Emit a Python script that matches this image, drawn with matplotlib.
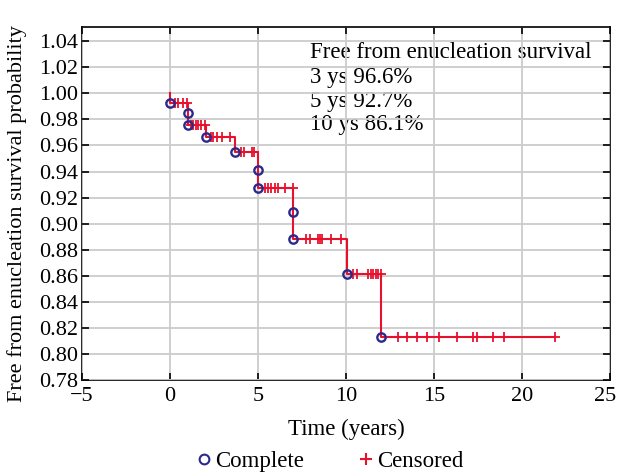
import matplotlib
matplotlib.use("Agg")
import matplotlib.pyplot as plt
import matplotlib.transforms as mtransforms
from matplotlib.lines import Line2D

# Kaplan-Meier steps (event times and survival after each event)
event_times = [0.0, 1.0, 1.0, 2.05, 3.7, 5.0, 5.0, 7.0, 7.0, 10.05, 12.0]
event_surv = [0.9924, 0.9846, 0.9759, 0.9667, 0.9551, 0.9415, 0.9274,
              0.9087, 0.8884, 0.8613, 0.8133]
end_time = 21.9

# Censored observations (time, survival level)
cens_times = [0.28, 0.44, 0.76, 0.95,
              1.19, 1.33, 1.46, 1.61, 1.76, 1.99,
              2.33, 2.46, 2.65, 2.94, 3.41,
              4.03, 4.22, 4.64, 4.79,
              5.40, 5.55, 5.75, 5.95, 6.15, 6.55, 7.0,
              7.75, 7.94, 8.41, 8.54, 8.66, 9.17, 9.73,
              10.4, 10.6, 11.25, 11.4, 11.55, 11.68, 11.82, 12.0,
              12.97, 13.45, 14.01, 14.58, 15.28, 16.32, 17.23, 17.42, 18.33, 18.99, 21.9]
cens_surv = [0.9924] * 4 + [0.9759] * 6 + [0.9667] * 5 + [0.9551] * 4 + \
            [0.9274] * 7 + [0.8884] * 7 + [0.8613] * 8 + [0.8133] * 11

annot_lines = ["Free from enucleation survival", "3 ys 96.6%", "5 ys 92.7%", "10 ys 86.1%"]
annot_y = [1.0315, 1.0123, 0.9938, 0.9761]

x_ticks = [-5, 0, 5, 10, 15, 20, 25]
y_ticks = [0.78, 0.80, 0.82, 0.84, 0.86, 0.88, 0.90, 0.92, 0.94, 0.96, 0.98, 1.00, 1.02, 1.04]

plt.rcParams['font.family'] = ['Liberation Serif', 'DejaVu Serif']
RED = '#e8112d'
NAVY = '#2b2a8c'
FS = 16.5

fig = plt.figure(figsize=(6.19, 4.72), dpi=100)
ax = fig.add_axes([0.1325, 0.195, 0.853, 0.748])

step_x = [0.0] + event_times + [end_time]
step_y = [1.0] + event_surv + [event_surv[-1]]
ax.step(step_x, step_y, where='post', color=RED, lw=1.5, zorder=3)
ax.plot(cens_times, cens_surv, linestyle='none', marker='+', color=RED,
        markersize=7, markeredgewidth=1.3, zorder=4)
ax.plot(event_times, event_surv, linestyle='none', marker='o', markerfacecolor='none',
        markeredgecolor=NAVY, markersize=6, markeredgewidth=1.7, zorder=5)

for txt, yy in zip(annot_lines, annot_y):
    ax.text(7.95, yy, txt, fontsize=FS, va='center', ha='left', zorder=1)

ax.set_xlim(-5, 25)
ax.set_ylim(0.78, 1.051)
ax.set_xticks(x_ticks)
ax.set_yticks(y_ticks)
ax.set_yticklabels([f"{v:.2f}" for v in y_ticks])
ax.grid(True, color='#cccccc', lw=1.3, zorder=2.5)
ax.set_axisbelow(False)
ax.tick_params(direction='in', top=True, right=True, length=5, width=1.2,
               labelsize=16)
ax.tick_params(axis='x', pad=5)
ax.tick_params(axis='y', pad=3)
for s in ax.spines.values():
    s.set_linewidth(1.2)
ax.set_xlabel("Time (years)", fontsize=FS, labelpad=9)
ax.set_ylabel("Free from enucleation survival probability", fontsize=16)
ax.yaxis.set_label_coords(-0.105, 0.47)

# nudge the last x tick label so it stays inside the figure
last_lbl = ax.get_xticklabels()[-1]
last_lbl.set_transform(last_lbl.get_transform() +
                       mtransforms.ScaledTranslation(-5 / 100, 0, fig.dpi_scale_trans))

handles = [Line2D([], [], linestyle='none', marker='o', markerfacecolor='none',
                  markeredgecolor=NAVY, markersize=7, markeredgewidth=1.5),
           Line2D([], [], linestyle='none', marker='+', color=RED,
                  markersize=8, markeredgewidth=1.5)]
fig.legend(handles, ["Complete", "Censored"], loc='lower center', ncol=2,
           bbox_to_anchor=(0.53, -0.043), frameon=False, fontsize=FS,
           handletextpad=0.0, columnspacing=2.2, handlelength=1.0)

fig.savefig("out.png", dpi=100)
